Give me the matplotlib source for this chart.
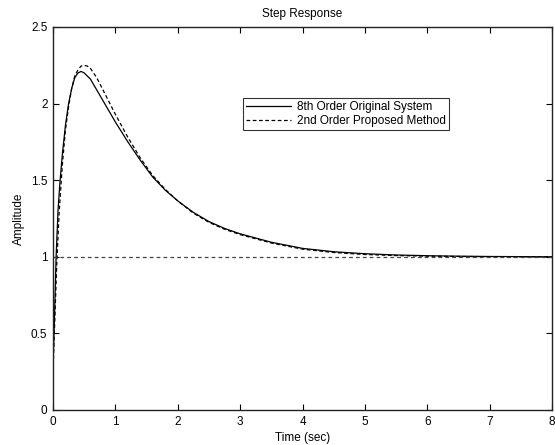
import matplotlib
matplotlib.use("Agg")
import matplotlib.pyplot as plt

plt.rcParams['font.family'] = ['Liberation Sans', 'DejaVu Sans']

# 8th order original system
t_orig = [0, 0.02, 0.05, 0.08, 0.11, 0.15, 0.2, 0.25, 0.3, 0.35, 0.4, 0.45, 0.5,
          0.6, 0.7, 0.8, 0.9, 1.0, 1.2, 1.4, 1.6, 1.8, 2.0, 2.25, 2.5, 2.75, 3.0,
          3.5, 4.0, 4.5, 5.0, 5.5, 6.0, 6.5, 7.0, 7.5, 8.0]
y_orig = [0.3, 0.55, 1.0, 1.3, 1.48, 1.67, 1.86, 2.0, 2.1, 2.17, 2.2, 2.21, 2.2,
          2.16, 2.09, 2.02, 1.95, 1.88, 1.75, 1.63, 1.52, 1.435, 1.365, 1.29, 1.23, 1.185, 1.15,
          1.095, 1.055, 1.033, 1.02, 1.012, 1.007, 1.004, 1.002, 1.001, 1.0]

# 2nd order proposed method
t_prop = [0, 0.03, 0.06, 0.1, 0.15, 0.2, 0.25, 0.3, 0.35, 0.4, 0.45, 0.5, 0.55,
          0.6, 0.7, 0.8, 0.9, 1.0, 1.2, 1.4, 1.6, 1.8, 2.0, 2.25, 2.5, 2.75, 3.0,
          3.5, 4.0, 4.5, 5.0, 5.5, 6.0, 6.5, 7.0, 7.5, 8.0]
y_prop = [0.25, 0.6, 0.95, 1.3, 1.6, 1.83, 1.98, 2.1, 2.18, 2.22, 2.245, 2.25, 2.245,
          2.23, 2.17, 2.09, 2.01, 1.93, 1.78, 1.645, 1.53, 1.44, 1.365, 1.285, 1.225, 1.18, 1.145,
          1.09, 1.05, 1.028, 1.015, 1.008, 1.004, 1.002, 1.001, 1.0, 1.0]

steady_t = [0, 8]
steady_y = [1, 1]

xticks = [0, 1, 2, 3, 4, 5, 6, 7, 8]
yticks = [0, 0.5, 1, 1.5, 2, 2.5]

fs = 8.5
fig = plt.figure(figsize=(5.55, 4.45), dpi=100)
ax = fig.add_axes([53/555, 1 - 410/445, (552 - 53)/555, (410 - 27)/445])

l1, = ax.plot(t_orig, y_orig, color='black', lw=0.9, label='8th Order Original System')
l2, = ax.plot(t_prop, y_prop, color='black', lw=0.9, ls=(0, (3, 2)), label='2nd Order Proposed Method')
ax.plot(steady_t, steady_y, color='#444444', lw=0.9, ls=(0, (3, 2.5)))

ax.set_xlim(0, 8)
ax.set_ylim(0, 2.5)
ax.set_xticks(xticks)
ax.set_yticks(yticks)
ax.set_xticklabels([str(v) for v in xticks])
ax.set_yticklabels(['0', '0.5', '1', '1.5', '2', '2.5'])
ax.tick_params(direction='in', top=True, right=True, length=4, width=0.8,
               labelsize=fs, pad=4)
for s in ax.spines.values():
    s.set_linewidth(1.0)
    s.set_color('#222222')

ax.set_title('Step Response', fontsize=fs, pad=7)
ax.set_xlabel('Time (sec)', fontsize=fs, labelpad=3)
ax.set_ylabel('Amplitude', fontsize=fs, labelpad=4)

leg = ax.legend(handles=[l1, l2], loc='upper left',
                bbox_to_anchor=((243 - 53)/499, 1 - (98 - 27)/383),
                fontsize=fs, frameon=True, fancybox=False, borderpad=0.25,
                handlelength=3.8, handletextpad=0.5, labelspacing=0.15,
                borderaxespad=0)
leg.get_frame().set_edgecolor('black')
leg.get_frame().set_linewidth(0.8)

fig.savefig('out.png', dpi=100)
